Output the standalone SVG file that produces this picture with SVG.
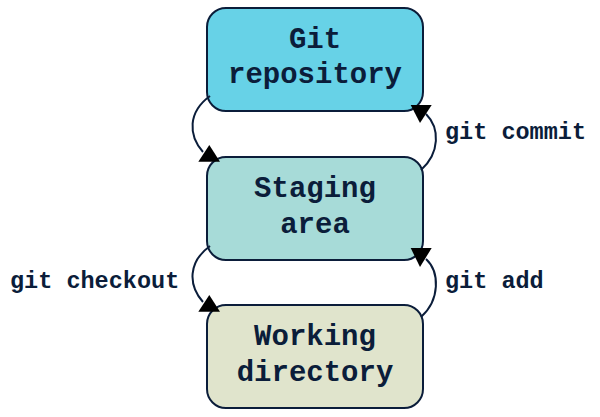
<svg xmlns="http://www.w3.org/2000/svg" width="600" height="417" viewBox="0 0 600 417">
<style>
.node{stroke:#0b1d3a;stroke-width:2}
.nt{font-family:"Liberation Mono","Courier New",monospace;font-weight:bold;font-size:29px;fill:#0b1d3a;text-anchor:middle}
.lt{font-family:"Liberation Mono","Courier New",monospace;font-weight:bold;font-size:23.5px;fill:#0b1d3a}
.c{fill:none;stroke:#0b1d3a;stroke-width:2}
.ah{fill:#000}
</style>
<rect width="600" height="417" fill="#fff"/>
<g id="git-repository">
<rect class="node" x="207" y="8" width="216" height="103" rx="19" fill="#67d2e7"/>
<text class="nt" x="315" y="48">Git</text>
<text class="nt" x="315" y="83">repository</text>
</g>
<g id="staging-area">
<rect class="node" x="207" y="157" width="216" height="103" rx="19" fill="#a7dbd8"/>
<text class="nt" x="315" y="197">Staging</text>
<text class="nt" x="315" y="233">area</text>
</g>
<g id="working-directory">
<rect class="node" x="207" y="305" width="216" height="103" rx="19" fill="#e0e4cc"/>
<text class="nt" x="315" y="345">Working</text>
<text class="nt" x="315" y="381">directory</text>
</g>
<g id="connectors">
<path class="c" d="M210,96 C188,112 188,135 203,152"/>
<polygon class="ah" points="209.3,145 198.3,161.7 220,161.7"/>
<path class="c" d="M421,170 C440,153 440,128 426,114"/>
<polygon class="ah" points="410.7,105 431.7,105 420,123"/>
<path class="c" d="M210,246 C188,262 188,285 203,302"/>
<polygon class="ah" points="209.3,295 198.3,311.7 220,311.7"/>
<path class="c" d="M421,317 C440,300 440,272 426,259"/>
<polygon class="ah" points="410.7,248 431.7,248 420,267"/>
<text class="lt" x="445" y="139">git commit</text>
<text class="lt" x="10" y="288">git checkout</text>
<text class="lt" x="445" y="288">git add</text>
</g>
</svg>
